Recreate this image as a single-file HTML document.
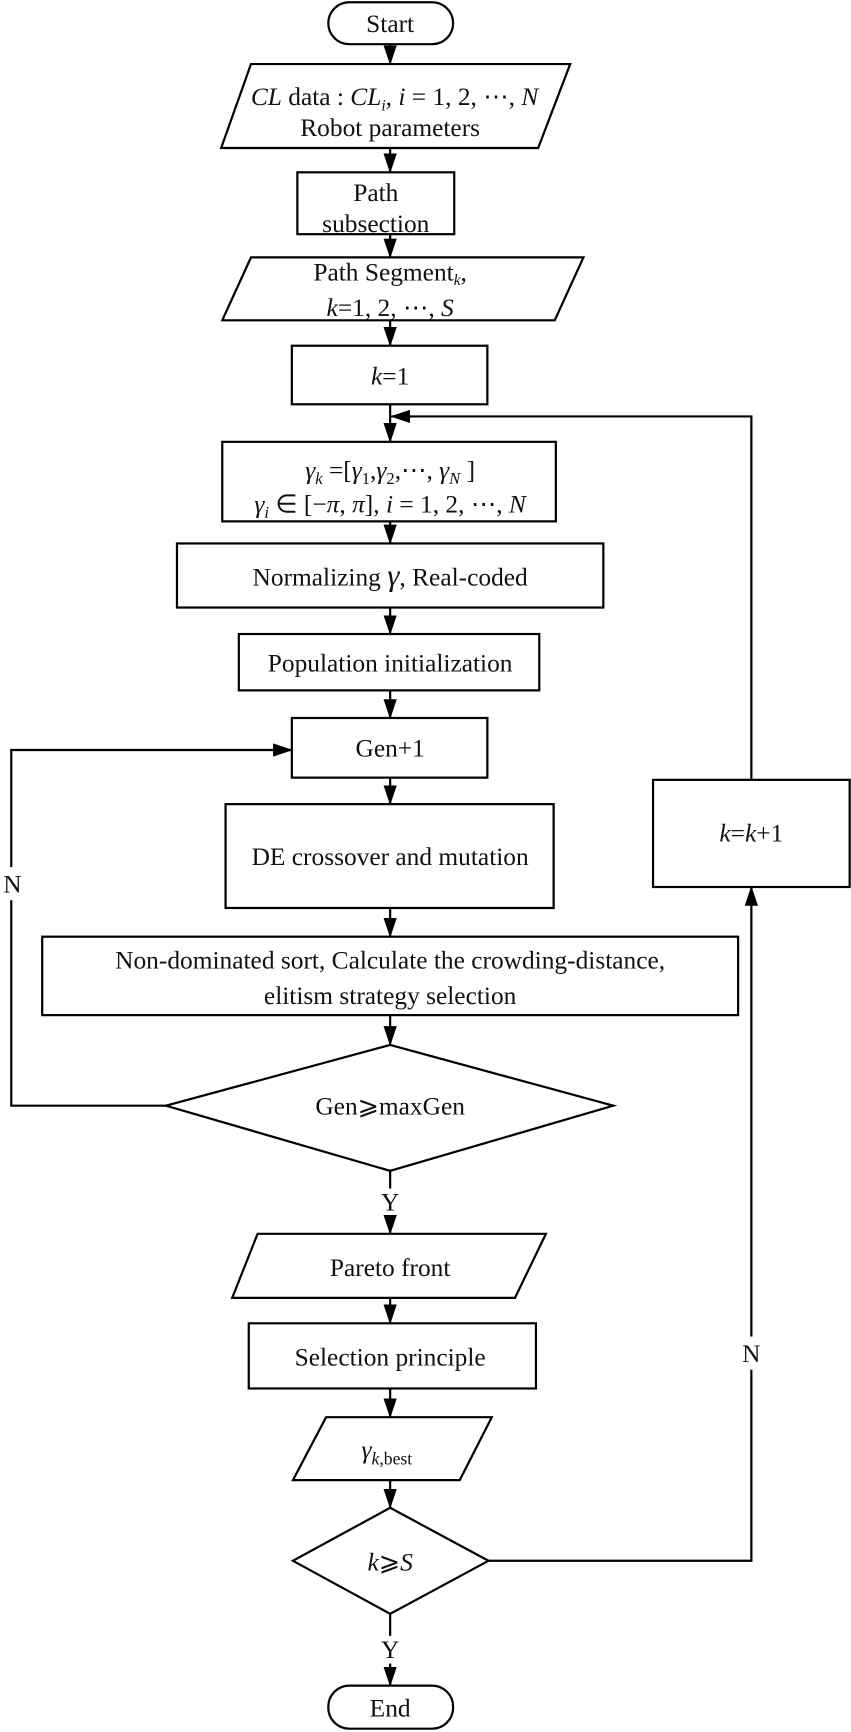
<!DOCTYPE html>
<html><head><meta charset="utf-8"><style>
html,body{margin:0;padding:0;background:#fff;}
svg{display:block;}
text{font-family:"Liberation Serif",serif;font-size:23px;fill:#111;text-anchor:middle;}
.i{font-style:italic;}
</style></head><body>
<svg width="851" height="1732" viewBox="0 0 770 1568" xmlns="http://www.w3.org/2000/svg">
<defs><marker id="a" markerWidth="18" markerHeight="12" refX="17" refY="6" orient="auto" markerUnits="userSpaceOnUse"><path d="M0,0 L18,6 L0,12 Z" fill="#000"/></marker></defs>
<g fill="none" stroke="#000" stroke-width="2">
<rect x="297" y="2" width="113" height="38" rx="19"/>
<polygon points="227,58 516,58 487,134 200,134"/>
<rect x="269" y="156" width="142" height="56"/>
<polygon points="227,233 528,233 502,290 201,290"/>
<rect x="264" y="313" width="177" height="53"/>
<rect x="201" y="400" width="302" height="72"/>
<rect x="160" y="492" width="386" height="58"/>
<rect x="216" y="574" width="272" height="51"/>
<rect x="264" y="650" width="177" height="54"/>
<rect x="204" y="728" width="297" height="94"/>
<rect x="38" y="848" width="630" height="71"/>
<polygon points="353,946 555,1001 353,1060 150,1001"/>
<polygon points="233,1117 494,1117 466,1175 210,1175"/>
<rect x="225" y="1198" width="260" height="59"/>
<polygon points="295,1283 445,1283 416,1340 265,1340"/>
<polygon points="353,1365 442,1413 353,1461 265,1413"/>
<rect x="297" y="1526" width="113" height="39" rx="19"/>
<rect x="591" y="706" width="178" height="97"/>
</g>
<g stroke="#000" stroke-width="2" fill="none" marker-end="url(#a)">
<line x1="353" y1="40" x2="353" y2="58"/>
<line x1="353" y1="134" x2="353" y2="156"/>
<line x1="353" y1="212" x2="353" y2="233"/>
<line x1="353" y1="290" x2="353" y2="313"/>
<line x1="353" y1="366" x2="353" y2="400"/>
<line x1="353" y1="472" x2="353" y2="492"/>
<line x1="353" y1="550" x2="353" y2="574"/>
<line x1="353" y1="625" x2="353" y2="650"/>
<line x1="353" y1="704" x2="353" y2="728"/>
<line x1="353" y1="822" x2="353" y2="848"/>
<line x1="353" y1="919" x2="353" y2="946"/>
<line x1="353" y1="1100" x2="353" y2="1117"/>
<line x1="353" y1="1175" x2="353" y2="1198"/>
<line x1="353" y1="1257" x2="353" y2="1283"/>
<line x1="353" y1="1340" x2="353" y2="1365"/>
<line x1="353" y1="1506" x2="353" y2="1526"/>
<polyline points="150,1001 10,1001 10,679 264,679"/>
<polyline points="680,706 680,377 354,377"/>
<polyline points="442,1413 680,1413 680,803"/>
</g>
<g stroke="#000" stroke-width="2">
<line x1="353" y1="1060" x2="353" y2="1076"/>
<line x1="353" y1="1461" x2="353" y2="1481"/>
</g>
<rect x="0" y="785" width="22" height="30" fill="#fff"/>
<rect x="669" y="1210" width="22" height="30" fill="#fff"/>
<text x="353" y="29">Start</text>
<text x="357" y="95"><tspan class="i">CL</tspan> data : <tspan class="i">CL</tspan><tspan class="i" font-size="14" dy="5">i</tspan><tspan dy="-5">, </tspan><tspan class="i">i</tspan> = 1, 2, ⋯, <tspan class="i">N</tspan></text>
<text x="353" y="123">Robot parameters</text>
<text x="340" y="182">Path</text>
<text x="340" y="210">subsection</text>
<text x="353" y="254">Path Segment<tspan class="i" font-size="14" dy="4">k</tspan><tspan dy="-4">,</tspan></text>
<text x="353" y="286"><tspan class="i">k</tspan>=1, 2, ⋯, <tspan class="i">S</tspan></text>
<text x="353" y="348"><tspan class="i">k</tspan>=1</text>
<text x="353" y="433" class="i" font-size="26">γ<tspan font-size="15" dy="5">k</tspan><tspan dy="-5" font-style="normal"> =[</tspan>γ<tspan font-size="15" dy="5" font-style="normal">1</tspan><tspan dy="-5" font-style="normal">,</tspan>γ<tspan font-size="15" dy="5" font-style="normal">2</tspan><tspan dy="-5" font-style="normal">,⋯, </tspan>γ<tspan font-size="15" dy="5">N</tspan><tspan dy="-5" font-style="normal"> ]</tspan></text>
<text x="353" y="464" class="i" font-size="26">γ<tspan font-size="15" dy="5">i</tspan><tspan dy="-5" font-style="normal"> ∈ [−</tspan>π<tspan font-style="normal">, </tspan>π<tspan font-style="normal">], </tspan>i<tspan font-style="normal"> = 1, 2, ⋯, </tspan>N</text>
<text x="353" y="530">Normalizing <tspan class="i" font-size="28">γ</tspan>, Real-coded</text>
<text x="353" y="608">Population initialization</text>
<text x="353" y="685">Gen+1</text>
<text x="353" y="783">DE crossover and mutation</text>
<text x="353" y="877">Non-dominated sort, Calculate the crowding-distance,</text>
<text x="353" y="909">elitism strategy selection</text>
<text x="353" y="1009">Gen⩾maxGen</text>
<text x="353" y="1096">Y</text>
<text x="353" y="1155">Pareto front</text>
<text x="353" y="1236">Selection principle</text>
<text x="350" y="1320" class="i" font-size="28">γ<tspan font-size="16" dy="6">k</tspan><tspan font-size="16" font-style="normal">,best</tspan></text>
<text x="353" y="1422" font-size="25"><tspan class="i">k</tspan>⩾<tspan class="i">S</tspan></text>
<text x="353" y="1501">Y</text>
<text x="353" y="1554">End</text>
<text x="11" y="808">N</text>
<text x="680" y="1233">N</text>
<text x="680" y="762"><tspan class="i">k</tspan>=<tspan class="i">k</tspan>+1</text>
</svg>
</body></html>
